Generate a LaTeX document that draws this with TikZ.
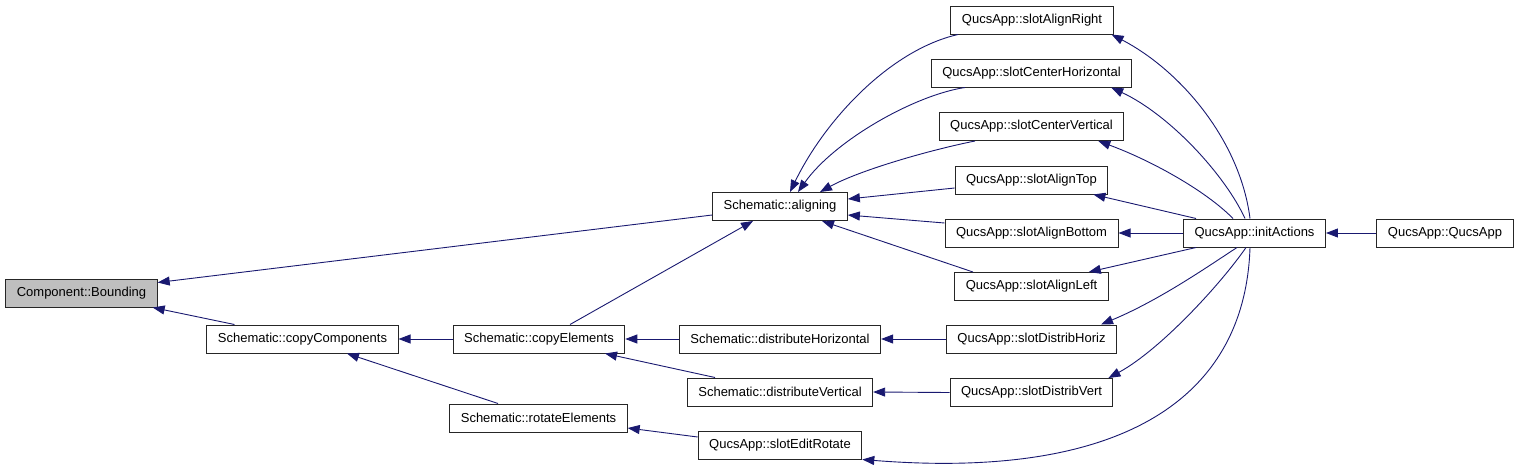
\documentclass[tikz,border=0pt]{standalone}
\usepackage{fontspec}
\setmainfont{Liberation Sans}
\usetikzlibrary{arrows.meta}
\definecolor{edgeblue}{RGB}{25,25,112}
\definecolor{boxgray}{RGB}{191,191,191}

\begin{document}
\begin{tikzpicture}[
    x=1pt, y=-1pt,
    box/.style={rectangle,draw=black!85,line width=1pt,fill=white,minimum height=28pt,inner xsep=11pt,inner ysep=0pt,font=\fontsize{13}{15}\selectfont},
    edge/.style={->,color=edgeblue,line width=0.9pt},
    >={Triangle[length=12pt,width=9pt]}
  ]
  \useasboundingbox (0,0) rectangle (1520,469);
  \node[box,fill=boxgray] (bound) at (81.5,293) {Component::Bounding};
  \node[box] (copycomp) at (302.5,339) {Schematic::copyComponents};
  \node[box] (copyel) at (539,339) {Schematic::copyElements};
  \node[box] (rotel) at (538.5,418) {Schematic::rotateElements};
  \node[box] (align) at (780,206.5) {Schematic::aligning};
  \node[box] (disth) at (780,339) {Schematic::distributeHorizontal};
  \node[box] (distv) at (780,392) {Schematic::distributeVertical};
  \node[box] (editrot) at (780,445) {QucsApp::slotEditRotate};
  \node[box] (alright) at (1032,20) {QucsApp::slotAlignRight};
  \node[box] (centh) at (1031.5,73) {QucsApp::slotCenterHorizontal};
  \node[box] (centv) at (1031.5,126.5) {QucsApp::slotCenterVertical};
  \node[box] (atop) at (1031.5,180) {QucsApp::slotAlignTop};
  \node[box] (abottom) at (1031.5,233) {QucsApp::slotAlignBottom};
  \node[box] (aleft) at (1031.5,286.5) {QucsApp::slotAlignLeft};
  \node[box] (dhoriz) at (1031.5,339) {QucsApp::slotDistribHoriz};
  \node[box] (dvert) at (1031.5,392.5) {QucsApp::slotDistribVert};
  \node[box] (initact) at (1254.5,233) {QucsApp::initActions};
  \node[box] (qapp) at (1445,233) {QucsApp::QucsApp};
  \draw[edge] ([yshift=-8.5pt]align.west) -- ([yshift=-4pt]bound.north east);
  \draw[edge] ([xshift=28pt]copycomp.north west) -- ([xshift=-5pt]bound.south east);
  \draw[edge] (copyel.west) -- (copycomp.east);
  \draw[edge] ([xshift=-40.5pt]rotel.north) -- ([xshift=44.5pt]copycomp.south);
  \draw[edge] ([xshift=31pt]copyel.north) -- ([xshift=-27pt]align.south);
  \draw[edge] (disth.west) -- (copyel.east);
  \draw[edge] ([xshift=-65pt]distv.north) -- ([xshift=66pt]copyel.south);
  \draw[edge] ([yshift=8pt]editrot.west) -- ([yshift=-10pt]rotel.east);
  \draw[edge] ([xshift=-74pt]alright.south) .. controls (890,50) and (825,120) .. ([xshift=10pt]align.north);
  \draw[edge] ([xshift=-66.5pt]centh.south) .. controls (915,95) and (835,140) .. ([xshift=18pt]align.north);
  \draw[edge] ([xshift=-56.5pt]centv.south) .. controls (930,150) and (860,170) .. ([xshift=40pt]align.north);
  \draw[edge] ([yshift=-8pt]atop.west) -- ([yshift=7.5pt]align.east);
  \draw[edge] ([yshift=10pt]abottom.west) -- ([yshift=-8.5pt]align.east);
  \draw[edge] ([xshift=-58.5pt]aleft.north) -- ([xshift=42pt]align.south);
  \draw[edge] (dhoriz.west) -- (disth.east);
  \draw[edge] (dvert.west) -- (distv.east);
  \draw[edge] ([xshift=-4.5pt]initact.north) .. controls (1240,140) and (1180,70) .. ([xshift=-2pt]alright.south east);
  \draw[edge] ([xshift=-9.5pt]initact.north) .. controls (1225,175) and (1170,115) .. ([xshift=-21pt]centh.south east);
  \draw[edge] ([xshift=-21.5pt]initact.north) .. controls (1205,190) and (1150,160) .. ([xshift=-26pt]centv.south east);
  \draw[edge] ([xshift=13pt]initact.north west) -- ([xshift=-15pt]atop.south east);
  \draw[edge] (initact.west) -- (abottom.east);
  \draw[edge] ([xshift=13pt]initact.south west) -- ([xshift=-20pt]aleft.north east);
  \draw[edge] ([xshift=-17.5pt]initact.south) .. controls (1210,265) and (1160,300) .. ([xshift=-16pt]dhoriz.north east);
  \draw[edge] ([xshift=-8.5pt]initact.south) .. controls (1220,285) and (1160,350) .. ([xshift=-5pt]dvert.north east);
  \draw[edge] ([xshift=-4.5pt]initact.south) .. controls (1245,400) and (1120,480) .. (editrot.south east);
  \draw[edge] (qapp.west) -- (initact.east);
\end{tikzpicture}
\end{document}
